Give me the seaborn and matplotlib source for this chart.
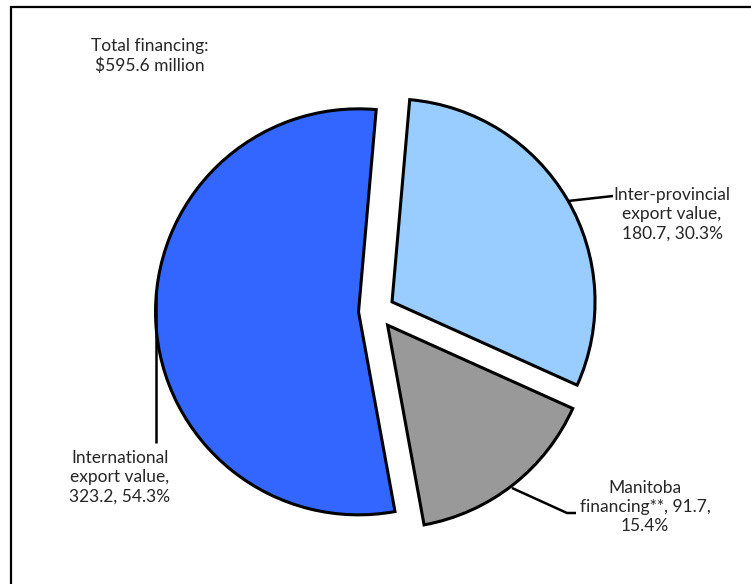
import matplotlib
matplotlib.use("Agg")
import matplotlib.pyplot as plt
import seaborn as sns
import numpy as np
from matplotlib.patches import Rectangle

sns.set_style("white")
plt.rcParams["font.family"] = ["Lato", "DejaVu Sans"]

# Financing breakdown ($ millions)
categories = ["Inter-provincial\nexport value", "Manitoba\nfinancing**", "International\nexport value"]
values = [180.7, 91.7, 323.2]
total_label = "Total financing:\n$595.6 million"

colors = ["#99CCFF", "#999999", "#3366FF"]

W, H = 751, 584
fig = plt.figure(figsize=(W / 100, H / 100), dpi=100)
ax = fig.add_axes([0, 0, 1, 1])

cx, cy, r = 376.5, H - 311, 203
gap = 18  # explode offset in data units
wedges, _ = ax.pie(values, colors=colors, startangle=85, counterclock=False,
                   explode=[gap] * 3, center=(cx, cy), radius=r,
                   wedgeprops=dict(edgecolor="black", linewidth=2.2, joinstyle="miter"),
                   frame=True)
ax.set_xlim(0, W)
ax.set_ylim(0, H)
ax.set_aspect("equal")
ax.axis("off")

total = sum(values)
pct = [v / total * 100 for v in values]
fs = 12.5

def Y(py):
    return H - py

# Leader lines
lw = 1.8
ax.plot([568, 613], [Y(201), Y(196)], color="black", lw=lw, solid_capstyle="butt")
ax.plot([156, 156], [Y(292), Y(443)], color="black", lw=lw, solid_capstyle="butt")
ax.plot([512, 567, 576], [Y(488), Y(513), Y(513)], color="black", lw=lw, solid_capstyle="butt")

# Labels
ax.text(672, Y(214), f"{categories[0]},\n{values[0]}, {pct[0]:.1f}%", ha="center", va="center",
        fontsize=fs, linespacing=1.25)
ax.text(645, Y(507), f"Manitoba\nfinancing**, {values[1]},\n{pct[1]:.1f}%", ha="center", va="center",
        fontsize=fs, linespacing=1.25)
ax.text(120, Y(477), f"{categories[2]},\n{values[2]}, {pct[2]:.1f}%", ha="center", va="center",
        fontsize=fs, linespacing=1.25)
ax.text(150, Y(56), total_label, ha="center", va="center", fontsize=fs, linespacing=1.25)

# Frame around the chart
fig.patches.append(Rectangle((11 / W, -0.1), 1.2, (H - 7) / H + 0.1, transform=fig.transFigure,
                             fill=False, edgecolor="black", linewidth=1.6))

fig.savefig("out.png", dpi=100)
